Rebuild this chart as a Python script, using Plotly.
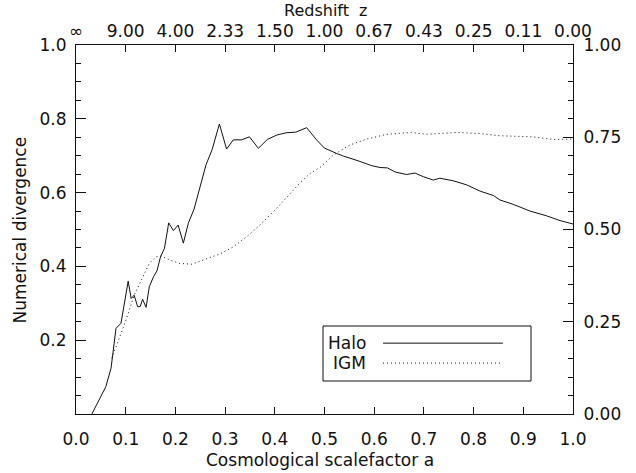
import plotly.graph_objects as go

# ---- data ----
halo_a = [0.032, 0.047, 0.060, 0.0705, 0.0805, 0.0905, 0.105, 0.111, 0.117, 0.124, 0.129,
          0.134, 0.141, 0.1475, 0.156, 0.163, 0.170, 0.178, 0.1865, 0.196, 0.2055, 0.216,
          0.226, 0.2375, 0.2495, 0.2615, 0.274, 0.2885, 0.303, 0.3165, 0.333, 0.349, 0.367,
          0.385, 0.404, 0.4225, 0.4425, 0.464, 0.484, 0.4995, 0.5245, 0.538, 0.568, 0.595,
          0.612, 0.6265, 0.642, 0.665, 0.682, 0.699, 0.719, 0.732, 0.759, 0.786, 0.813,
          0.840, 0.853, 0.880, 0.9135, 0.947, 0.974, 0.987, 1.0]
halo_div = [0.0, 0.038, 0.074, 0.124, 0.232, 0.246, 0.360, 0.313, 0.322, 0.291, 0.291,
            0.311, 0.289, 0.345, 0.372, 0.388, 0.426, 0.449, 0.518, 0.497, 0.512, 0.463,
            0.517, 0.555, 0.616, 0.675, 0.717, 0.786, 0.718, 0.743, 0.743, 0.751, 0.720,
            0.744, 0.756, 0.762, 0.764, 0.776, 0.743, 0.721, 0.706, 0.699, 0.686, 0.673,
            0.668, 0.667, 0.656, 0.649, 0.653, 0.643, 0.634, 0.639, 0.632, 0.621, 0.604,
            0.592, 0.580, 0.568, 0.550, 0.537, 0.524, 0.520, 0.515]

igm_a = [0.072, 0.1006, 0.117, 0.134, 0.1475, 0.161, 0.171, 0.189, 0.209, 0.233, 0.256,
         0.290, 0.3165, 0.343, 0.370, 0.397, 0.424, 0.451, 0.471, 0.491, 0.518, 0.551,
         0.585, 0.625, 0.675, 0.706, 0.766, 0.813, 0.853, 0.920, 0.960, 0.994, 1.0]
igm_div = [0.151, 0.255, 0.322, 0.372, 0.408, 0.426, 0.428, 0.417, 0.408, 0.406, 0.417,
           0.434, 0.453, 0.480, 0.512, 0.548, 0.587, 0.627, 0.652, 0.668, 0.702, 0.729,
           0.745, 0.758, 0.763, 0.758, 0.763, 0.760, 0.754, 0.751, 0.744, 0.744, 0.745]

x_ticks = [0.0, 0.1, 0.2, 0.3, 0.4, 0.5, 0.6, 0.7, 0.8, 0.9, 1.0]
x_ticktext = ["0.0", "0.1", "0.2", "0.3", "0.4", "0.5", "0.6", "0.7", "0.8", "0.9", "1.0"]
z_ticktext = ["\u221e", "9.00", "4.00", "2.33", "1.50", "1.00", "0.67", "0.43", "0.25", "0.11", "0.00"]
yl_ticks = [0.2, 0.4, 0.6, 0.8, 1.0]
yl_ticktext = ["0.2", "0.4", "0.6", "0.8", "1.0"]
yr_ticks = [0.0, 0.25, 0.5, 0.75, 1.0]
yr_ticktext = ["0.00", "0.25", "0.50", "0.75", "1.00"]

FONT = "DejaVu Sans"
FS = 17
INK = "#111111"

fig = go.Figure()
fig.add_trace(go.Scatter(x=halo_a, y=halo_div, mode="lines", name="Halo",
                         line=dict(color=INK, width=1), showlegend=False))
fig.add_trace(go.Scatter(x=igm_a, y=igm_div, mode="lines", name="IGM",
                         line=dict(color=INK, width=1, dash="1px,3px"), showlegend=False))
# invisible trace to anchor secondary axes
fig.add_trace(go.Scatter(x=[0.5], y=[0.5], xaxis="x2", yaxis="y2", mode="markers",
                         marker=dict(opacity=0), showlegend=False, hoverinfo="skip"))

axis_common = dict(showline=True, linecolor=INK, linewidth=1, ticks="inside",
                   tickcolor=INK, showgrid=False, zeroline=False, automargin=False,
                   tickfont=dict(family=FONT, size=FS, color=INK))

fig.update_layout(
    width=636, height=473,
    margin=dict(l=76, r=63, t=45, b=59),
    paper_bgcolor="white", plot_bgcolor="white",
    font=dict(family=FONT, size=FS, color=INK),
    xaxis=dict(range=[0, 1], tickvals=x_ticks, ticktext=x_ticktext, ticklen=7,
               ticklabelstandoff=10, **axis_common),
    xaxis2=dict(range=[0, 1], overlaying="x", side="top", anchor="y",
                tickvals=x_ticks, ticktext=z_ticktext, ticklen=7,
                ticklabelstandoff=0, **axis_common),
    yaxis=dict(range=[0, 1], tickvals=yl_ticks, ticktext=yl_ticktext, ticklen=10,
               ticklabelstandoff=5,
               minor=dict(dtick=0.05, tick0=0, ticklen=5, ticks="inside", tickcolor=INK),
               **axis_common),
    yaxis2=dict(range=[0, 1], overlaying="y", side="right", anchor="x",
                tickvals=yr_ticks, ticktext=yr_ticktext, ticklen=10,
                ticklabelstandoff=6,
                minor=dict(dtick=0.05, tick0=0, ticklen=5, ticks="inside", tickcolor=INK),
                **axis_common),
)

# axis titles
fig.add_annotation(xref="paper", yref="paper", x=0.49, y=-0.1247, text="Cosmological scalefactor a",
                   showarrow=False, xanchor="center", yanchor="middle",
                   font=dict(family=FONT, size=FS, color=INK))
fig.add_annotation(xref="paper", yref="paper", x=0.503, y=1.0948, text="Redshift  z",
                   showarrow=False, xanchor="center", yanchor="middle",
                   font=dict(family=FONT, size=16, color=INK))
fig.add_annotation(xref="paper", yref="paper", x=-0.1127, y=0.5, text="Numerical divergence",
                   showarrow=False, xanchor="center", yanchor="middle", textangle=-90,
                   font=dict(family=FONT, size=FS, color=INK))

# legend box drawn to match the reference (label left, line sample right)
fig.add_shape(type="rect", xref="paper", yref="paper", x0=0.497, x1=0.9155,
              y0=0.0894, y1=0.2385, line=dict(color=INK, width=1), fillcolor="white", layer="above")
fig.add_shape(type="line", xref="paper", yref="paper", x0=0.6177, x1=0.859, y0=0.192, y1=0.192,
              line=dict(color=INK, width=1))
fig.add_shape(type="line", xref="paper", yref="paper", x0=0.6177, x1=0.859, y0=0.138, y1=0.138,
              line=dict(color=INK, width=1, dash="1px,3px"))
for name, yy in (("Halo", 0.192), ("IGM", 0.138)):
    fig.add_annotation(xref="paper", yref="paper", x=0.5875, y=yy, text=name, showarrow=False,
                       xanchor="right", yanchor="middle",
                       font=dict(family=FONT, size=FS, color=INK))

# remove the default page body margin so the figure sits at the window's corner
fig.write_html("out.html", config={"displayModeBar": False},
               post_script="document.body.style.margin='0px';")
